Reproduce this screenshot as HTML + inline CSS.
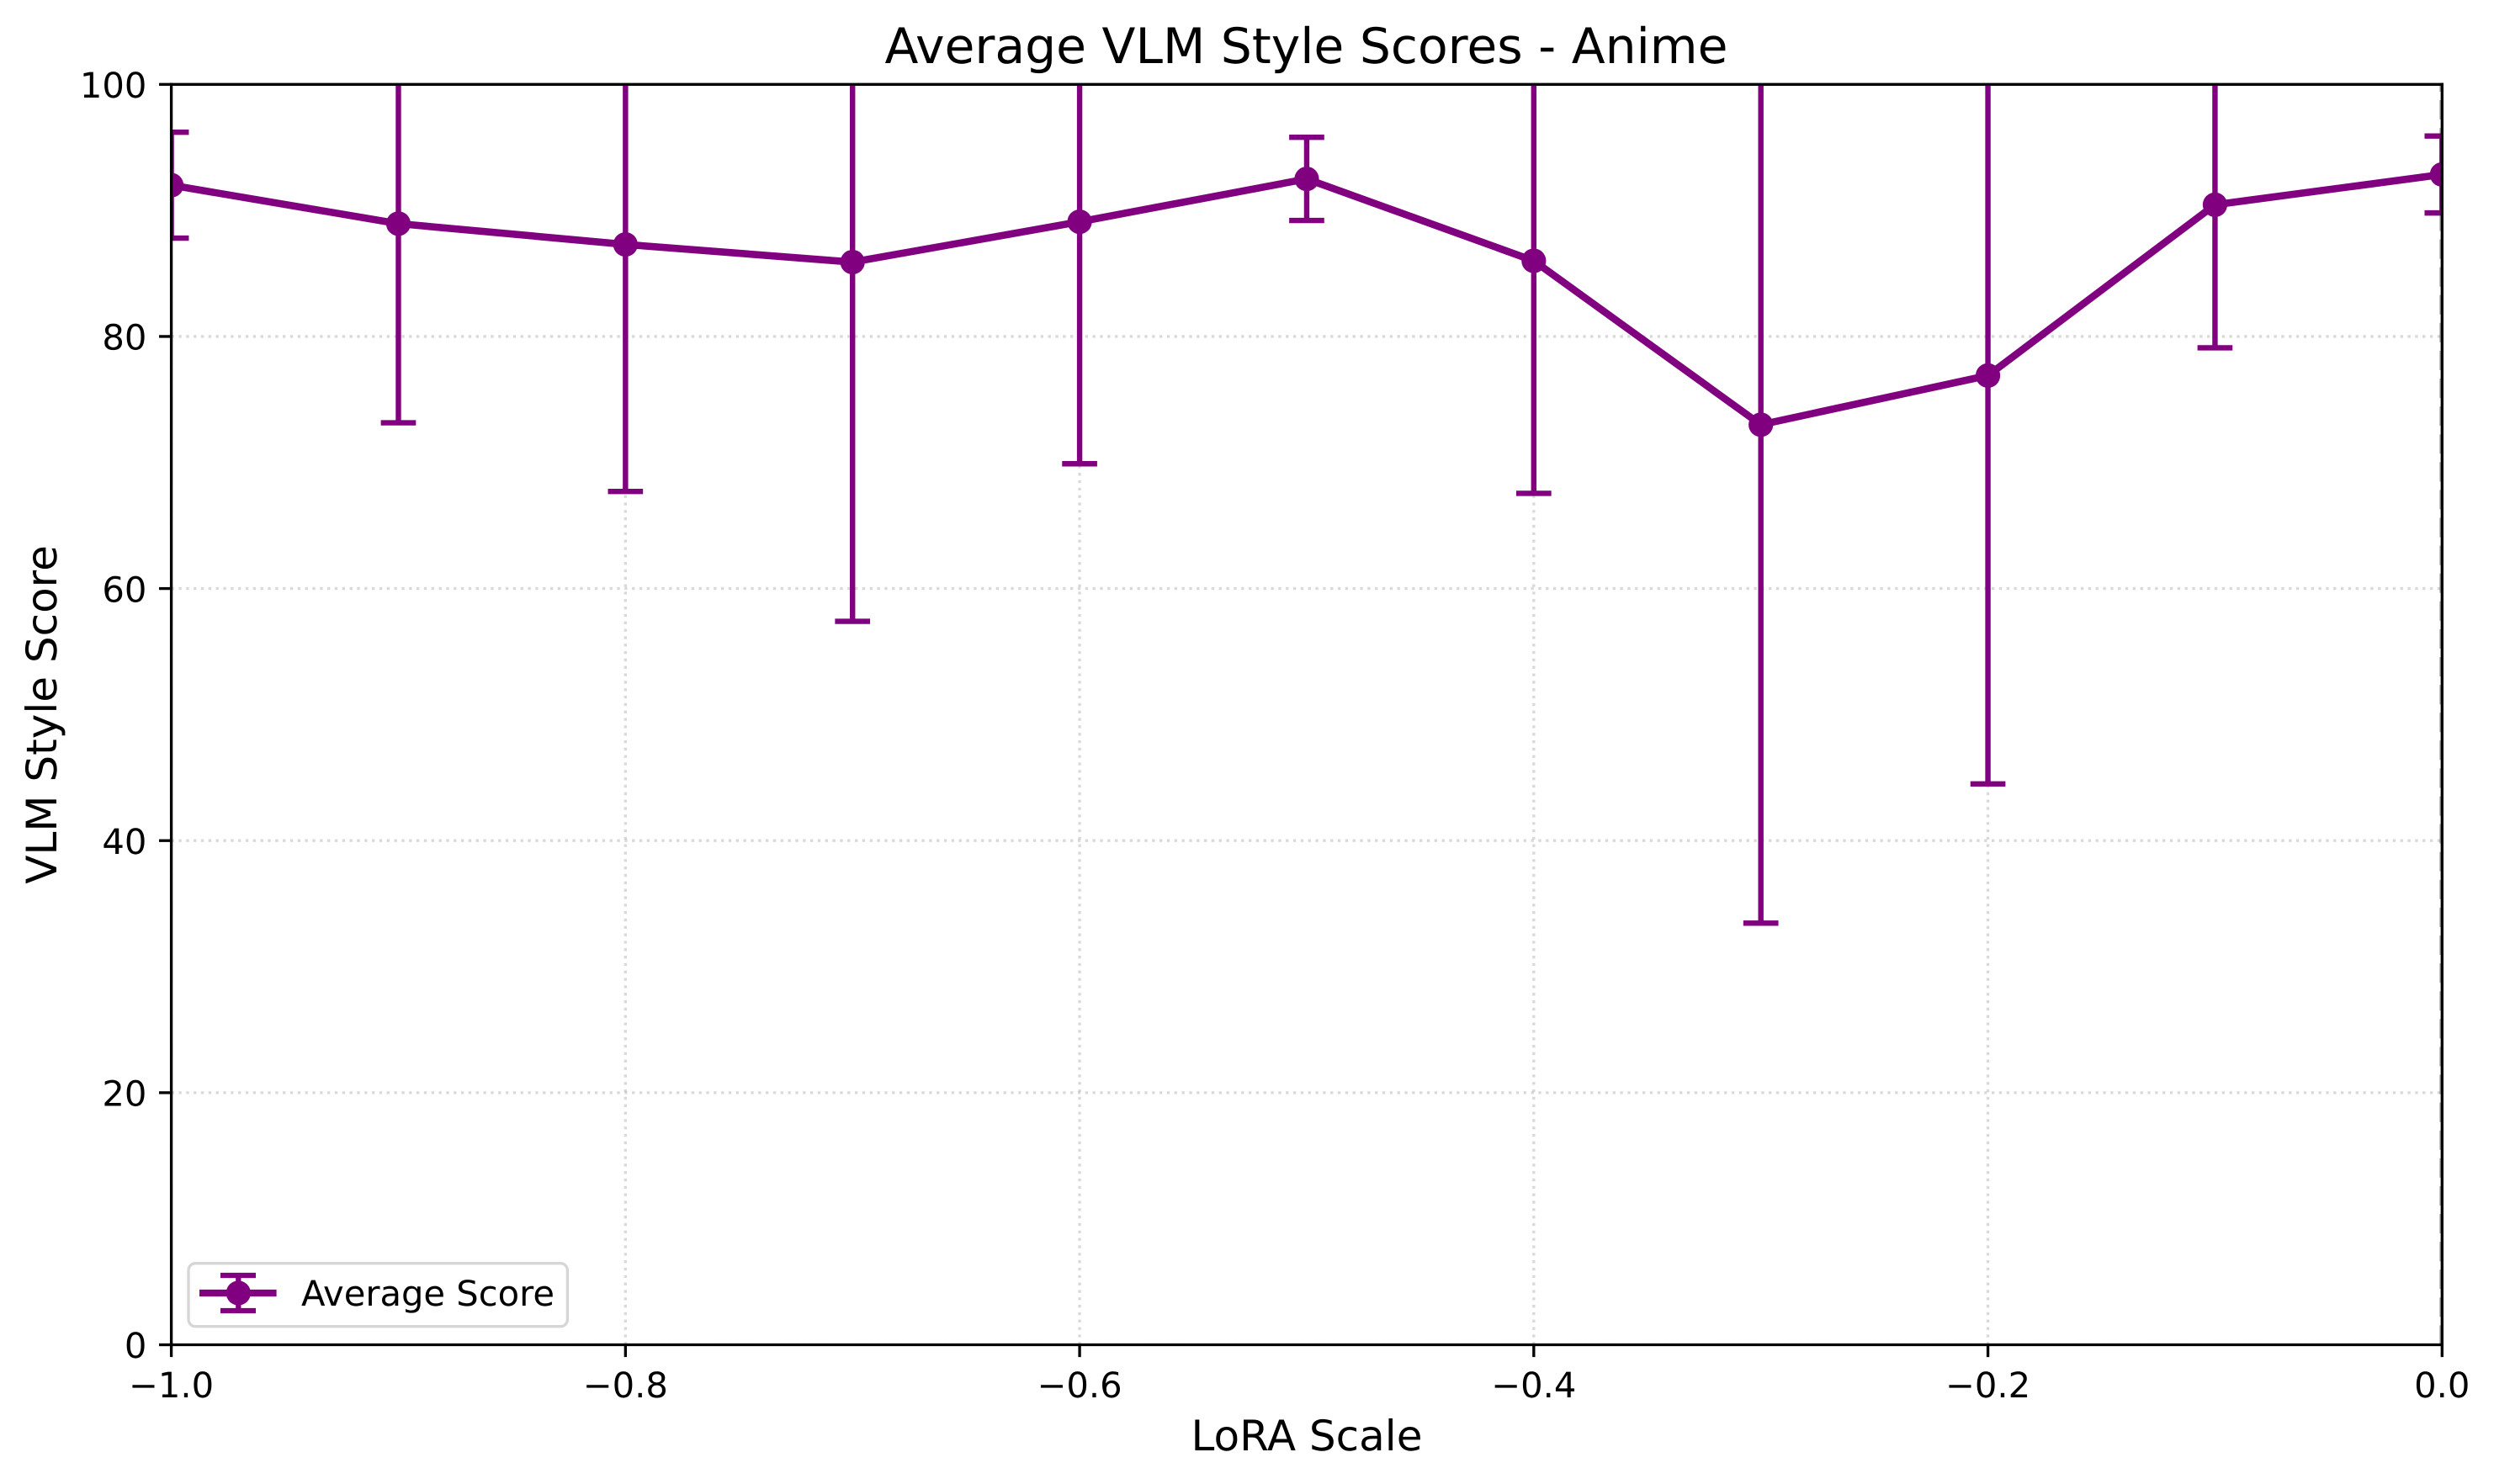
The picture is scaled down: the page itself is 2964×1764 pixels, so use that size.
<!DOCTYPE html>
<html lang="en">
<head>
<meta charset="utf-8">
<title>Average VLM Style Scores - Anime</title>
<style>
html,body{margin:0;padding:0;background:#fff;}
svg{display:block;}
text{font-family:"DejaVu Sans","Liberation Sans",sans-serif;fill:#000;text-rendering:geometricPrecision;}
</style>
</head>
<body>
<svg id="chart" xmlns="http://www.w3.org/2000/svg" width="2964" height="1764" viewBox="0 0 2964 1764">
  <defs><clipPath id="plot-clip"><rect x="203.6" y="100.3" width="2698.7" height="1498.2"></rect></clipPath></defs>
  <rect x="0" y="0" width="2964" height="1764" fill="#fff"></rect>
  <g id="grid" clip-path="url(#plot-clip)"></g>
  <g id="series" clip-path="url(#plot-clip)"></g>
  <g id="spines"></g>
  <g id="ticks"></g>
  <text x="1552.5" y="75" font-size="58.33" text-anchor="middle">Average VLM Style Scores - Anime</text>
  <text x="1553" y="1724" font-size="50" text-anchor="middle">LoRA Scale</text>
  <text transform="translate(67 849.4) rotate(-90)" x="0" y="0" font-size="50" text-anchor="middle">VLM Style Score</text>
  <g>
    <rect x="224" y="1501.7" width="450.4" height="75" rx="8.3" ry="8.3" fill="#fff" fill-opacity="0.8" stroke="#cccccc" stroke-opacity="0.8" stroke-width="3.33"></rect>
    <g>
      <line x1="283.3" x2="283.3" y1="1516" y2="1558" stroke="#800080" stroke-width="6.25"></line>
      <line x1="262" x2="304" y1="1516" y2="1516" stroke="#800080" stroke-width="6.25"></line>
      <line x1="262" x2="304" y1="1558" y2="1558" stroke="#800080" stroke-width="6.25"></line>
      <line x1="237" x2="328.6" y1="1537" y2="1537" stroke="#800080" stroke-width="8.33"></line>
      <circle cx="283.3" cy="1537" r="14.6" fill="#800080"></circle>
      <text x="358" y="1552" font-size="41.67">Average Score</text>
    </g>
  </g>
</svg>
<script>
const scales = [-1.0, -0.9, -0.8, -0.7, -0.6, -0.5, -0.4, -0.3, -0.2, -0.1, 0.0];
const meanScores = [92.0, 88.95, 87.3, 85.9, 89.1, 92.5, 86.0, 73.0, 76.9, 90.45, 92.85];
const scoreErrors = [4.2, 15.8, 19.6, 28.5, 19.2, 3.3, 18.45, 39.55, 32.4, 11.35, 3.05];
const xTicks = [-1.0, -0.8, -0.6, -0.4, -0.2, 0.0];
const xTickLabels = ["\u22121.0", "\u22120.8", "\u22120.6", "\u22120.4", "\u22120.2", "0.0"];
const yTicks = [0, 20, 40, 60, 80, 100];
const yTickLabels = ["0", "20", "40", "60", "80", "100"];
const xDomain = [-1, 0];
const yDomain = [0, 100];

const plotLeft = 203.6, plotRight = 2902.3, plotTop = 100.3, plotBottom = 1598.5;
const purple = "#800080";
const NS = "http://www.w3.org/2000/svg";

function xScale(v) {
  return plotLeft + (v - xDomain[0]) / (xDomain[1] - xDomain[0]) * (plotRight - plotLeft);
}
function yScale(v) {
  return plotBottom - (v - yDomain[0]) / (yDomain[1] - yDomain[0]) * (plotBottom - plotTop);
}
function make(tag, parent, attrs) {
  const node = document.createElementNS(NS, tag);
  for (const k in attrs) node.setAttribute(k, attrs[k]);
  parent.appendChild(node);
  return node;
}

const gridG = document.getElementById("grid");
const seriesG = document.getElementById("series");
const spinesG = document.getElementById("spines");
const ticksG = document.getElementById("ticks");

xTicks.forEach(function (t) {
  const g = make("line", gridG, {x1: xScale(t), x2: xScale(t), y1: plotBottom, y2: plotTop, stroke: "#808080", "stroke-opacity": 0.3, "stroke-width": 3.33, "stroke-dasharray": "3.33 5.5"});
  
  
});
yTicks.forEach(function (t) {
  const g = make("line", gridG, {x1: plotLeft, x2: plotRight, y1: yScale(t), y2: yScale(t), stroke: "#808080", "stroke-opacity": 0.3, "stroke-width": 3.33, "stroke-dasharray": "3.33 5.5"});
  
  
});

const zeroLine = make("line", seriesG, {x1: xScale(0), x2: xScale(0), y1: plotBottom, y2: plotTop, stroke: "#000", "stroke-opacity": 0.3, "stroke-width": 6.25, "stroke-dasharray": "23.1 10"});



scales.forEach(function (s, i) {
  const x = xScale(s);
  const hi = yScale(meanScores[i] + scoreErrors[i]);
  const lo = yScale(meanScores[i] - scoreErrors[i]);
  const bar = make("line", seriesG, {x1: x, x2: x, y1: lo, y2: hi, stroke: purple, "stroke-width": 6.4});
  
  
  const capTop = make("line", seriesG, {x1: x - 20.83, x2: x + 20.83, y1: hi, y2: hi, stroke: purple, "stroke-width": 6.4});
  
  
  const capLow = make("line", seriesG, {x1: x - 20.83, x2: x + 20.83, y1: lo, y2: lo, stroke: purple, "stroke-width": 6.4});
  
  
});

const pathPoints = scales.map(function (s, i) { return xScale(s) + "," + yScale(meanScores[i]); }).join(" ");
const meanLine = make("polyline", seriesG, {points: pathPoints, fill: "none", stroke: purple, "stroke-width": 8.6, "stroke-linejoin": "round"});



scales.forEach(function (s, i) {
  const pt = make("circle", seriesG, {cx: xScale(s), cy: yScale(meanScores[i]), r: 14.6, fill: purple});
  
  
});

const spineLeft = make("line", spinesG, {x1: plotLeft, x2: plotLeft, y1: plotTop - 1.67, y2: plotBottom + 1.67, stroke: "#000", "stroke-width": 3.33});


const spineRight = make("line", spinesG, {x1: plotRight, x2: plotRight, y1: plotTop - 1.67, y2: plotBottom + 1.67, stroke: "#000", "stroke-width": 3.33});


const spineTop = make("line", spinesG, {x1: plotLeft - 1.67, x2: plotRight + 1.67, y1: plotTop, y2: plotTop, stroke: "#000", "stroke-width": 3.33});


const spineBottom = make("line", spinesG, {x1: plotLeft - 1.67, x2: plotRight + 1.67, y1: plotBottom, y2: plotBottom, stroke: "#000", "stroke-width": 3.33});



xTicks.forEach(function (t, i) {
  const x = xScale(t);
  const mark = make("line", ticksG, {x1: x, x2: x, y1: plotBottom, y2: plotBottom + 14.6, stroke: "#000", "stroke-width": 3.33});
  
  
  const label = make("text", ticksG, {x: x, y: 1661, "font-size": 41.67, "text-anchor": "middle"});
  label.textContent = xTickLabels[i];
  
  
});
yTicks.forEach(function (t, i) {
  const y = yScale(t);
  const mark = make("line", ticksG, {x1: plotLeft, x2: plotLeft - 14.6, y1: y, y2: y, stroke: "#000", "stroke-width": 3.33});
  
  
  const label = make("text", ticksG, {x: 174.4, y: y + 15.7, "font-size": 41.67, "text-anchor": "end"});
  label.textContent = yTickLabels[i];
  
  
});
</script>
</body>
</html>
